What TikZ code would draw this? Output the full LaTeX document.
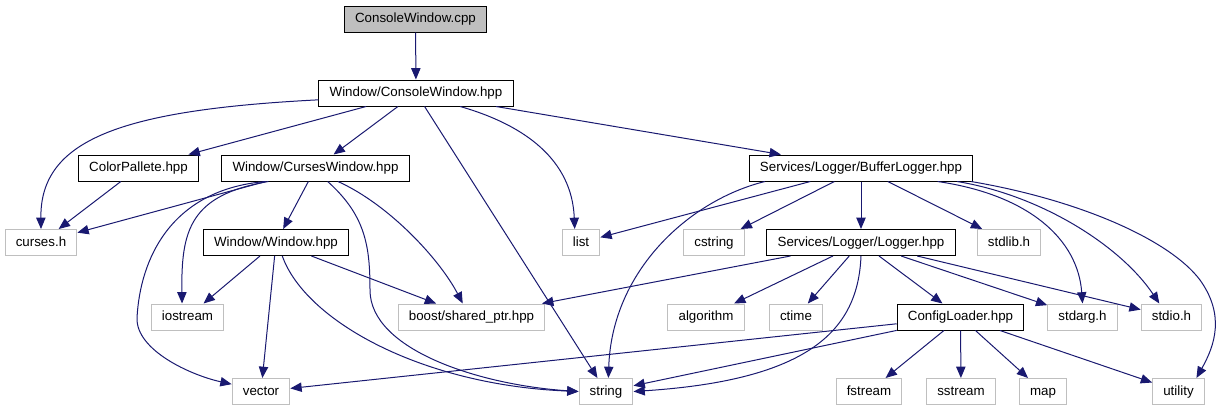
\documentclass[tikz,border=0pt]{standalone}
\usepackage{fontspec}
\setmainfont{Liberation Sans}
\usetikzlibrary{arrows.meta}
\definecolor{edgeblue}{HTML}{191970}
\definecolor{grey75}{HTML}{BFBFBF}

\begin{document}
\begin{tikzpicture}[
  x=0.75pt, y=-0.75pt,
  font=\fontsize{10}{12}\selectfont,
  >={Triangle[length=8.5pt,width=7pt]},
  inc/.style={rectangle,draw=black,fill=white,line width=0.75pt,inner xsep=8pt,inner ysep=0pt,
              minimum height=19.5pt,text height=7.4pt,text depth=2.1pt},
  sysinc/.style={inc,draw=grey75},
  srcfile/.style={inc,fill=grey75},
  dep/.style={->,draw=edgeblue,line width=0.75pt},
]
\useasboundingbox (0,0) rectangle (1224,411);

%% ----------------------------------------------------------------- files
\node[srcfile] (cpp) at (415.5,19) {ConsoleWindow.cpp};
\node[inc] (cwh) at (416,93) {Window/ConsoleWindow.hpp};
\node[inc] (cph) at (138.5,168) {ColorPallete.hpp};
\node[inc] (csw) at (315.5,168) {Window/CursesWindow.hpp};
\node[inc] (blg) at (861,168) {Services/Logger/BufferLogger.hpp};
\node[sysinc] (crs) at (41,242.5) {curses.h};
\node[inc] (wnd) at (276,242.5) {Window/Window.hpp};
\node[sysinc] (lst) at (581,242.5) {list};
\node[sysinc] (cst) at (714,242.5) {cstring};
\node[inc] (lgr) at (861,242.5) {Services/Logger/Logger.hpp};
\node[sysinc] (stl) at (1009,242.5) {stdlib.h};
\node[sysinc] (ios) at (187.5,317) {iostream};
\node[sysinc] (bst) at (471.5,317) {boost/shared\_ptr.hpp};
\node[sysinc] (alg) at (706,317) {algorithm};
\node[sysinc] (ctm) at (796,317) {ctime};
\node[inc] (cfg) at (960.5,317) {ConfigLoader.hpp};
\node[sysinc] (sta) at (1082.5,317) {stdarg.h};
\node[sysinc] (sio) at (1171.5,317) {stdio.h};
\node[sysinc] (vec) at (261,391.5) {vector};
\node[sysinc] (str) at (606,391.5) {string};
\node[sysinc] (fst) at (869,391.5) {fstream};
\node[sysinc] (sst) at (961,391.5) {sstream};
\node[sysinc] (map) at (1043,391.5) {map};
\node[sysinc] (utl) at (1178.5,391.5) {utility};

%% ------------------------------------------------------- straight edges
\foreach \a/\b in {cpp/cwh,cwh/cph,cwh/csw,cwh/str,cwh/blg,cph/crs,csw/crs,csw/wnd,
                   wnd/ios,wnd/vec,wnd/bst,blg/lst,blg/cst,blg/lgr,blg/stl,
                   lgr/bst,lgr/alg,lgr/ctm,lgr/cfg,lgr/sta,lgr/sio,
                   cfg/vec,cfg/str,cfg/fst,cfg/sst,cfg/map,cfg/utl}
  \draw[dep] (\a) -- (\b);

%% --------------------------------------------------------- curved edges
\draw[dep] (cwh.184) .. controls (120,110) and (40,140) .. (crs.north);
\draw[dep] (cwh.-17) .. controls (525,125) and (572,160) .. (lst.115);
\draw[dep] (csw.196) .. controls (190,195) and (181,230) .. (ios.112);
\draw[dep] (csw.195) .. controls (170,190) and (140,260) .. (137,318)
  .. controls (136,350) and (190,375) .. (vec.166);
\draw[dep] (csw.-48) .. controls (365,215) and (370,245) .. (370,290)
  .. controls (370,350) and (480,385) .. (str.west);
\draw[dep] (csw.-31) .. controls (390,205) and (440,260) .. (bst.123);
\draw[dep] (wnd.-65) .. controls (305,320) and (420,385) .. (str.west);

\draw[dep] (blg.188) .. controls (690,200) and (612,270) .. (str.80);
\draw[dep] (blg.-10) .. controls (1030,195) and (1078,240) .. (sta.north);
\draw[dep] (blg.-8.5) .. controls (1040,195) and (1120,245) .. (sio.132);
\draw[dep] (blg.-7.5) .. controls (1080,200) and (1170,240) .. (1200,280)
  .. controls (1225,315) and (1215,345) .. (utl.37);
\draw[dep] (lgr.south) .. controls (858,330) and (810,380) .. (str.east);

\end{tikzpicture}
\end{document}
